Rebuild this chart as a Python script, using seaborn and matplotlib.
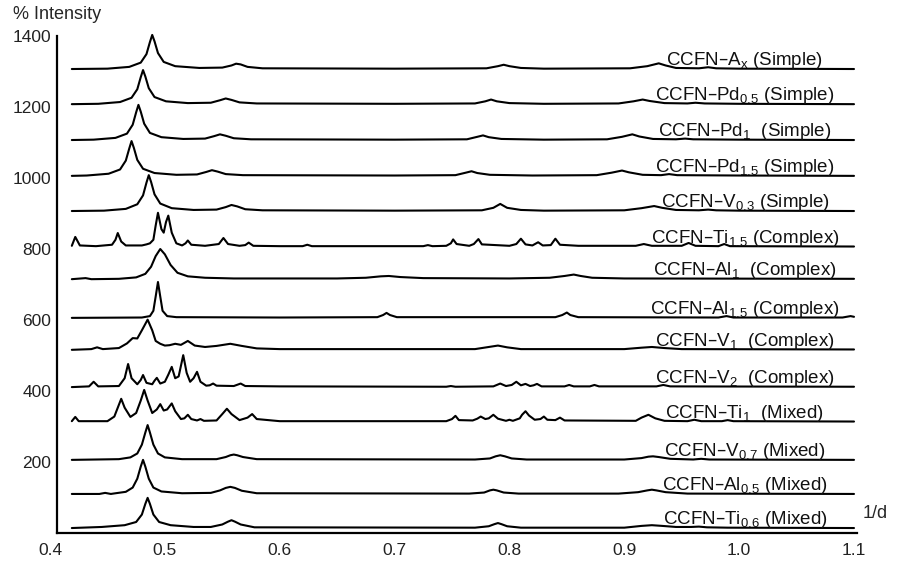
import matplotlib
matplotlib.use("Agg")
import matplotlib.pyplot as plt
import seaborn as sns
import pandas as pd

# ---------------- data ----------------
# trace labels, bottom to top
LABELS = [
    r"CCFN–Ti$_{0.6}$ (Mixed)",
    r"CCFN–Al$_{0.5}$ (Mixed)",
    r"CCFN–V$_{0.7}$ (Mixed)",
    r"CCFN–Ti$_{1}$  (Mixed)",
    r"CCFN–V$_{2}$  (Complex)",
    r"CCFN–V$_{1}$  (Complex)",
    r"CCFN–Al$_{1.5}$ (Complex)",
    r"CCFN–Al$_{1}$  (Complex)",
    r"CCFN–Ti$_{1.5}$ (Complex)",
    r"CCFN–V$_{0.3}$ (Simple)",
    r"CCFN–Pd$_{1.5}$ (Simple)",
    r"CCFN–Pd$_{1}$  (Simple)",
    r"CCFN–Pd$_{0.5}$ (Simple)",
    r"CCFN–A$_{x}$ (Simple)",
]
# baseline intensity of each trace
BASELINES = [14, 110, 206, 313, 411, 516, 606, 715, 806, 907, 1006, 1107, 1208, 1307]

# (1/d, intensity above baseline) vertices of each trace
TI06 = [(0.419,0),(0.445,3),(0.465,8),(0.475,17),(0.480,38),(0.483,68),(0.485,85),(0.487,68),(0.490,38),(0.495,17),(0.505,8),(0.525,3),(0.540,3),(0.550,10),(0.555,18),(0.558,22),(0.561,18),(0.566,10),(0.578,2),(0.770,1),(0.782,5),(0.787,11),(0.790,14),(0.793,11),(0.798,5),(0.810,1),(0.900,1),(0.915,6),(0.924,8),(0.933,6),(0.945,3),(0.958,3),(0.965,4),(0.972,2),(0.990,1),(1.100,0)]
AL05 = [(0.419,0),(0.443,0),(0.448,3),(0.453,0),(0.455,1),(0.466,6),(0.472,18),(0.476,43),(0.479,77),(0.481,96),(0.483,77),(0.486,43),(0.490,18),(0.497,7),(0.515,2),(0.540,3),(0.548,10),(0.553,17),(0.557,20),(0.561,17),(0.567,9),(0.580,2),(0.765,1),(0.778,4),(0.783,10),(0.786,12),(0.789,10),(0.795,4),(0.808,1),(0.895,1),(0.912,5),(0.920,10),(0.924,12),(0.928,10),(0.936,5),(0.955,1),(1.100,0)]
V07 = [(0.419,0),(0.460,2),(0.470,7),(0.476,18),(0.480,43),(0.483,77),(0.485,98),(0.487,77),(0.490,43),(0.494,18),(0.500,7),(0.515,2),(0.545,2),(0.553,8),(0.557,13),(0.560,15),(0.563,13),(0.568,8),(0.580,2),(0.770,1),(0.783,4),(0.788,10),(0.792,13),(0.796,10),(0.802,4),(0.815,1),(0.900,1),(0.915,5),(0.921,9),(0.925,10),(0.930,8),(0.940,3),(0.960,1),(0.967,3),(0.974,1),(1.100,0)]
TI1 = [(0.419,2),(0.422,14),(0.425,2),(0.450,2),(0.456,15),(0.459,40),(0.462,65),(0.465,40),(0.470,14),(0.475,25),(0.479,60),(0.482,90),(0.485,60),(0.489,25),(0.493,35),(0.496,50),(0.499,32),(0.502,35),(0.506,52),(0.509,30),(0.514,8),(0.517,10),(0.520,20),(0.523,8),(0.528,4),(0.531,8),(0.534,3),(0.545,4),(0.550,22),(0.554,37),(0.558,22),(0.565,5),(0.572,12),(0.576,22),(0.580,8),(0.600,2),(0.745,2),(0.750,8),(0.753,17),(0.756,5),(0.768,4),(0.772,9),(0.775,15),(0.779,8),(0.782,10),(0.786,20),(0.790,9),(0.797,3),(0.800,6),(0.803,3),(0.809,10),(0.811,20),(0.814,30),(0.817,18),(0.822,6),(0.827,8),(0.830,15),(0.833,6),(0.840,5),(0.844,12),(0.848,4),(0.910,3),(0.915,12),(0.921,20),(0.927,10),(0.935,3),(0.955,2),(0.961,6),(0.967,2),(0.985,2),(0.990,5),(0.995,2),(1.100,1)]
V2 = [(0.419,0),(0.434,2),(0.438,15),(0.442,2),(0.460,3),(0.465,25),(0.468,65),(0.471,25),(0.476,8),(0.479,20),(0.481,34),(0.484,12),(0.489,8),(0.491,18),(0.493,26),(0.496,10),(0.500,15),(0.503,35),(0.506,57),(0.509,25),(0.512,30),(0.514,60),(0.516,90),(0.519,40),(0.522,15),(0.525,25),(0.528,43),(0.531,15),(0.536,4),(0.539,5),(0.542,10),(0.545,4),(0.560,3),(0.566,10),(0.570,3),(0.600,2),(0.745,1),(0.749,3),(0.753,1),(0.786,2),(0.792,10),(0.797,3),(0.802,6),(0.806,15),(0.810,5),(0.814,9),(0.818,3),(0.821,5),(0.824,9),(0.828,2),(0.848,2),(0.852,6),(0.856,2),(0.870,2),(0.874,6),(0.878,2),(0.928,2),(0.934,6),(0.940,2),(1.100,1)]
V1 = [(0.419,0),(0.436,2),(0.441,7),(0.446,2),(0.460,5),(0.467,18),(0.472,33),(0.476,32),(0.480,55),(0.485,85),(0.489,55),(0.492,25),(0.496,17),(0.500,12),(0.504,13),(0.509,17),(0.514,14),(0.520,25),(0.526,12),(0.535,8),(0.545,11),(0.557,17),(0.567,11),(0.580,4),(0.600,2),(0.770,2),(0.782,8),(0.790,12),(0.798,7),(0.810,2),(0.900,2),(0.915,6),(0.924,8),(0.935,5),(0.950,2),(1.100,1)]
AL15 = [(0.419,0),(0.480,1),(0.487,5),(0.490,20),(0.492,60),(0.494,101),(0.496,60),(0.498,20),(0.502,5),(0.510,2),(0.600,1),(0.685,2),(0.690,8),(0.693,14),(0.696,8),(0.702,2),(0.840,2),(0.846,8),(0.850,15),(0.853,8),(0.860,2),(0.982,1),(0.989,5),(0.995,1),(1.090,1),(1.097,5),(1.100,3)]
AL1 = [(0.419,0),(0.431,3),(0.436,0),(0.460,1),(0.475,5),(0.483,15),(0.488,35),(0.492,65),(0.496,85),(0.500,70),(0.505,40),(0.511,18),(0.520,8),(0.535,4),(0.560,2),(0.650,2),(0.675,4),(0.688,8),(0.695,9),(0.705,6),(0.725,3),(0.800,2),(0.835,4),(0.848,9),(0.856,13),(0.862,9),(0.872,4),(0.900,2),(1.100,1)]
TI15 = [(0.419,3),(0.422,28),(0.426,4),(0.440,2),(0.454,6),(0.457,20),(0.459,39),(0.462,15),(0.466,4),(0.480,4),(0.484,7),(0.487,10),(0.490,20),(0.492,60),(0.494,96),(0.497,50),(0.499,40),(0.501,70),(0.503,88),(0.506,40),(0.510,10),(0.515,4),(0.518,10),(0.520,18),(0.523,6),(0.535,3),(0.547,8),(0.551,25),(0.555,8),(0.565,3),(0.570,5),(0.573,12),(0.577,3),(0.600,2),(0.620,2),(0.624,6),(0.628,2),(0.700,2),(0.725,2),(0.729,5),(0.733,2),(0.745,3),(0.749,10),(0.751,21),(0.754,8),(0.765,3),(0.769,8),(0.773,22),(0.776,7),(0.800,3),(0.806,8),(0.810,23),(0.814,7),(0.820,4),(0.825,13),(0.829,4),(0.836,5),(0.840,23),(0.844,6),(0.860,3),(0.910,3),(0.917,8),(0.924,3),(0.950,3),(0.956,11),(0.962,3),(0.982,2),(0.987,8),(0.992,2),(1.100,1)]
V03 = [(0.419,0),(0.447,1),(0.466,6),(0.476,19),(0.481,44),(0.484,80),(0.486,101),(0.488,82),(0.491,47),(0.496,21),(0.506,8),(0.525,3),(0.545,4),(0.553,11),(0.558,17),(0.563,13),(0.570,5),(0.585,2),(0.700,1),(0.776,2),(0.786,9),(0.792,20),(0.798,9),(0.810,3),(0.830,1),(0.900,2),(0.915,8),(0.926,14),(0.933,9),(0.945,3),(0.965,2),(0.973,4),(0.980,2),(1.000,1),(1.100,0)]
PD15 = [(0.419,0),(0.432,1),(0.451,6),(0.461,18),(0.466,43),(0.469,77),(0.471,98),(0.473,79),(0.476,45),(0.481,20),(0.491,8),(0.510,3),(0.528,4),(0.536,11),(0.541,16),(0.546,12),(0.553,5),(0.568,2),(0.700,1),(0.753,2),(0.762,9),(0.767,13),(0.772,8),(0.783,3),(0.820,1),(0.876,2),(0.889,9),(0.898,15),(0.904,10),(0.916,3),(0.932,2),(0.939,5),(0.946,2),(1.000,1),(1.100,0)]
PD1 = [(0.419,0),(0.438,1),(0.457,6),(0.467,18),(0.472,43),(0.475,78),(0.477,99),(0.479,80),(0.482,46),(0.487,20),(0.497,8),(0.516,3),(0.535,4),(0.543,11),(0.548,16),(0.553,12),(0.560,5),(0.575,2),(0.700,1),(0.763,2),(0.772,9),(0.777,13),(0.782,8),(0.793,3),(0.830,1),(0.885,2),(0.898,9),(0.907,16),(0.913,10),(0.925,3),(0.945,2),(0.953,4),(0.960,2),(1.000,1),(1.100,0)]
PD05 = [(0.419,0),(0.442,1),(0.461,6),(0.471,18),(0.476,42),(0.479,76),(0.481,96),(0.483,78),(0.486,45),(0.491,20),(0.501,8),(0.520,3),(0.540,4),(0.548,11),(0.553,16),(0.558,12),(0.565,5),(0.580,2),(0.700,1),(0.770,2),(0.779,8),(0.784,13),(0.789,8),(0.800,3),(0.830,1),(0.895,2),(0.908,8),(0.916,13),(0.922,9),(0.935,3),(0.955,2),(0.962,4),(0.970,2),(1.000,1),(1.100,0)]
AX = [(0.419,0),(0.450,1),(0.469,6),(0.479,18),(0.484,42),(0.487,76),(0.489,96),(0.491,78),(0.494,45),(0.499,20),(0.509,8),(0.530,3),(0.550,4),(0.558,10),(0.562,15),(0.566,13),(0.572,6),(0.585,2),(0.700,1),(0.780,2),(0.790,8),(0.795,12),(0.800,8),(0.810,3),(0.830,1),(0.905,2),(0.920,8),(0.930,16),(0.936,10),(0.945,3),(0.965,2),(0.973,5),(0.980,2),(1.000,1),(1.100,0)]

TRACES = [TI06, AL05, V07, TI1, V2, V1, AL15, AL1, TI15, V03, PD15, PD1, PD05, AX]

X_TICKS = [0.4, 0.5, 0.6, 0.7, 0.8, 0.9, 1.0, 1.1]
X_TICKLABELS = ["0.4", "0.5", "0.6", "0.7", "0.8", "0.9", "1.0", "1.1"]
Y_TICKS = [200, 400, 600, 800, 1000, 1200, 1400]
Y_TICKLABELS = ["200", "400", "600", "800", "1000", "1200", "1400"]

# ---------------- build long table ----------------
rows = []
for i, (pts, base) in enumerate(zip(TRACES, BASELINES)):
    for x, y in pts:
        rows.append({"trace": i, "x": x, "y": base + y})
df = pd.DataFrame(rows)

# ---------------- drawing ----------------
sns.set_style("white")
plt.rcParams["font.family"] = ["Liberation Sans", "DejaVu Sans"]
plt.rcParams["mathtext.default"] = "regular"

W, H = 904, 563
fig = plt.figure(figsize=(W / 100, H / 100), dpi=100)
ax = fig.add_axes([50 / W, (H - 533) / H, (854 - 50) / W, (533 - 36) / H])

sns.lineplot(data=df, x="x", y="y", units="trace", estimator=None, sort=False,
             color="black", linewidth=1.5, ax=ax, legend=False)
for line in ax.get_lines():
    line.set_clip_on(False)

for s in ["top", "right"]:
    ax.spines[s].set_visible(False)
ax.spines["left"].set_position(("data", 0.406))
for s in ["left", "bottom"]:
    ax.spines[s].set_color("black")
    ax.spines[s].set_linewidth(1.6)
ax.spines["bottom"].set_bounds(0.406, 1.103)

ax.set_xlim(0.4, 1.1)
ax.set_ylim(0, 1400)
ax.set_xticks(X_TICKS)
ax.set_xticklabels(X_TICKLABELS, fontsize=12.5)
ax.set_yticks(Y_TICKS)
ax.set_yticklabels(Y_TICKLABELS, fontsize=12.5)
ax.tick_params(axis="both", length=0, colors="#222222")
ax.tick_params(axis="y", pad=4)
ax.tick_params(axis="x", pad=7)
ax.set_xlabel("")
ax.set_ylabel("")

for lab, base in zip(LABELS, BASELINES):
    ax.text(1.005, base + 11, lab, ha="center", va="baseline", fontsize=13.5,
            color="#111111")

fig.text(13 / W, 1 - 19 / H, "% Intensity", ha="left", va="baseline", fontsize=13)
fig.text(875 / W, 1 - 513 / H, "1/d", ha="center", va="center", fontsize=13)

fig.savefig("out.png", dpi=100, facecolor="white")
